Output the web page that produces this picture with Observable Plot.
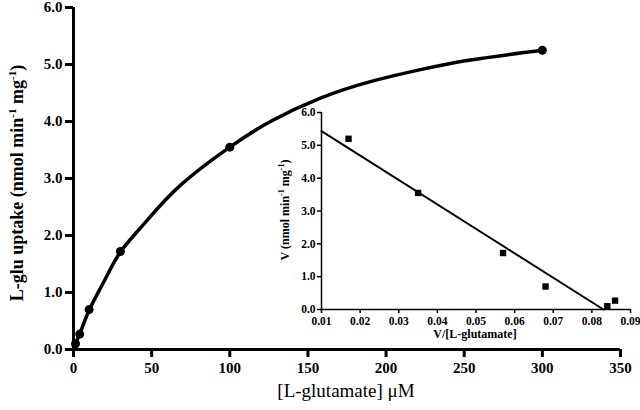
<!DOCTYPE html>
<html><head><meta charset="utf-8">
<script src="https://cdn.jsdelivr.net/npm/d3@7"></script>
<script src="https://cdn.jsdelivr.net/npm/@observablehq/plot@0.6"></script>
<style>body{margin:0;background:#fff} svg{font-family:"Liberation Serif",serif}</style>
</head><body><div id="chart"></div>
<script>
// Main saturation curve data
const glutamate = [1.3, 4, 10, 30, 100, 300];
const uptake = [0.1, 0.27, 0.7, 1.72, 3.55, 5.25];
// Fitted curve
const fitConc = [0, 4, 10, 20, 30, 45, 68, 100, 126, 158, 190, 222, 254, 300];
const fitUptake = [0.05, 0.27, 0.69, 1.22, 1.71, 2.2, 2.87, 3.55, 4.0, 4.41, 4.70, 4.91, 5.08, 5.25];
const xTicks = [0, 50, 100, 150, 200, 250, 300, 350];
const yTicks = [0, 1, 2, 3, 4, 5, 6];
// Inset (Eadie-Hofstee) data
const ratio = [0.017, 0.035, 0.057, 0.068, 0.084, 0.086];
const velocity = [5.2, 3.55, 1.72, 0.7, 0.1, 0.27];
const regRatio = [0.01, 0.083];
const regVelocity = [5.43, 0.0];
const insetXTicks = [0.01, 0.02, 0.03, 0.04, 0.05, 0.06, 0.07, 0.08, 0.09];
const insetYTicks = [0, 1, 2, 3, 4, 5, 6];

const pts = glutamate.map((s, i) => ({s, v: uptake[i]}));
const fit = fitConc.map((s, i) => ({s, v: fitUptake[i]}));
const ipts = ratio.map((r, i) => ({r, v: velocity[i]}));
const reg = regRatio.map((r, i) => ({r, v: regVelocity[i]}));

const main = Plot.plot({
  width: 640, height: 410,
  marginLeft: 73, marginRight: 20, marginTop: 7, marginBottom: 61,
  x: {domain: [0, 350]},
  y: {domain: [0, 6]},
  style: {fontFamily: "Liberation Serif", fontWeight: "bold", fontSize: "15px", color: "#000", background: "transparent"},
  marks: [
    Plot.axisX({ticks: xTicks, tickSize: 8, tickPadding: 5, strokeWidth: 3, label: null, fontSize: 15}),
    Plot.axisY({ticks: yTicks, tickSize: 8, tickPadding: 3, strokeWidth: 3, tickFormat: d3.format(".1f"), label: null, fontSize: 15}),
    Plot.ruleY([0], {strokeWidth: 3}),
    Plot.ruleX([0], {strokeWidth: 3}),
    Plot.line(fit, {x: "s", y: "v", curve: "natural", strokeWidth: 3.5}),
    Plot.dot(pts, {x: "s", y: "v", r: 4.5, fill: "black"})
  ]
});

const inset = Plot.plot({
  width: 370, height: 245,
  marginLeft: 51, marginRight: 10, marginTop: 12, marginBottom: 36,
  x: {domain: [0.01, 0.09]},
  y: {domain: [0, 6]},
  style: {fontFamily: "Liberation Serif", fontWeight: "bold", fontSize: "11.5px", color: "#000", background: "transparent"},
  marks: [
    Plot.axisX({ticks: insetXTicks, tickSize: 4, tickPadding: 3, strokeWidth: 1.5, tickFormat: d3.format(".2f"), label: null, fontSize: 11.5}),
    Plot.axisY({ticks: insetYTicks, tickSize: 4, tickPadding: 2, strokeWidth: 1.5, tickFormat: d3.format(".1f"), label: null, fontSize: 11.5}),
    Plot.ruleY([0], {strokeWidth: 1.5}),
    Plot.ruleX([0.01], {strokeWidth: 1.5}),
    Plot.line(reg, {x: "r", y: "v", strokeWidth: 2}),
    Plot.dot(ipts, {x: "r", y: "v", symbol: "square", r: 3.6, fill: "black"})
  ]
});
inset.setAttribute("x", 270);
inset.setAttribute("y", 100);
inset.style.width = "370px";
inset.style.height = "245px";
inset.style.maxWidth = "none";
inset.style.overflow = "visible";
main.appendChild(inset);

const svg = d3.select(main);
// Main x label
svg.append("text").attr("x", 346).attr("y", 397).attr("text-anchor", "middle")
  .attr("font-size", 19).attr("font-weight", "normal").attr("fill", "#000").text("[L-glutamate] μM");
// Main y label
const yl = svg.append("text").attr("transform", "translate(23,183) rotate(-90)")
  .attr("text-anchor", "middle").attr("font-size", 18).attr("font-weight", "bold").attr("fill", "#000");
yl.append("tspan").text("L-glu uptake (nmol min");
yl.append("tspan").attr("font-size", 11).attr("dy", -7).text("-1");
yl.append("tspan").attr("dy", 7).text(" mg");
yl.append("tspan").attr("font-size", 11).attr("dy", -7).text("-1");
yl.append("tspan").attr("dy", 7).text(")");
// Inset x label
svg.append("text").attr("x", 475).attr("y", 338).attr("text-anchor", "middle")
  .attr("font-size", 12).attr("font-weight", "bold").attr("fill", "#000").text("V/[L-glutamate]");
// Inset y label
const il = svg.append("text").attr("transform", "translate(289,210) rotate(-90)")
  .attr("text-anchor", "middle").attr("font-size", 12).attr("font-weight", "bold").attr("fill", "#000");
il.append("tspan").text("V (nmol min");
il.append("tspan").attr("font-size", 8).attr("dy", -5).text("-1");
il.append("tspan").attr("dy", 5).text(" mg");
il.append("tspan").attr("font-size", 8).attr("dy", -5).text("-1");
il.append("tspan").attr("dy", 5).text(")");

document.getElementById("chart").appendChild(main);
</script></body></html>
